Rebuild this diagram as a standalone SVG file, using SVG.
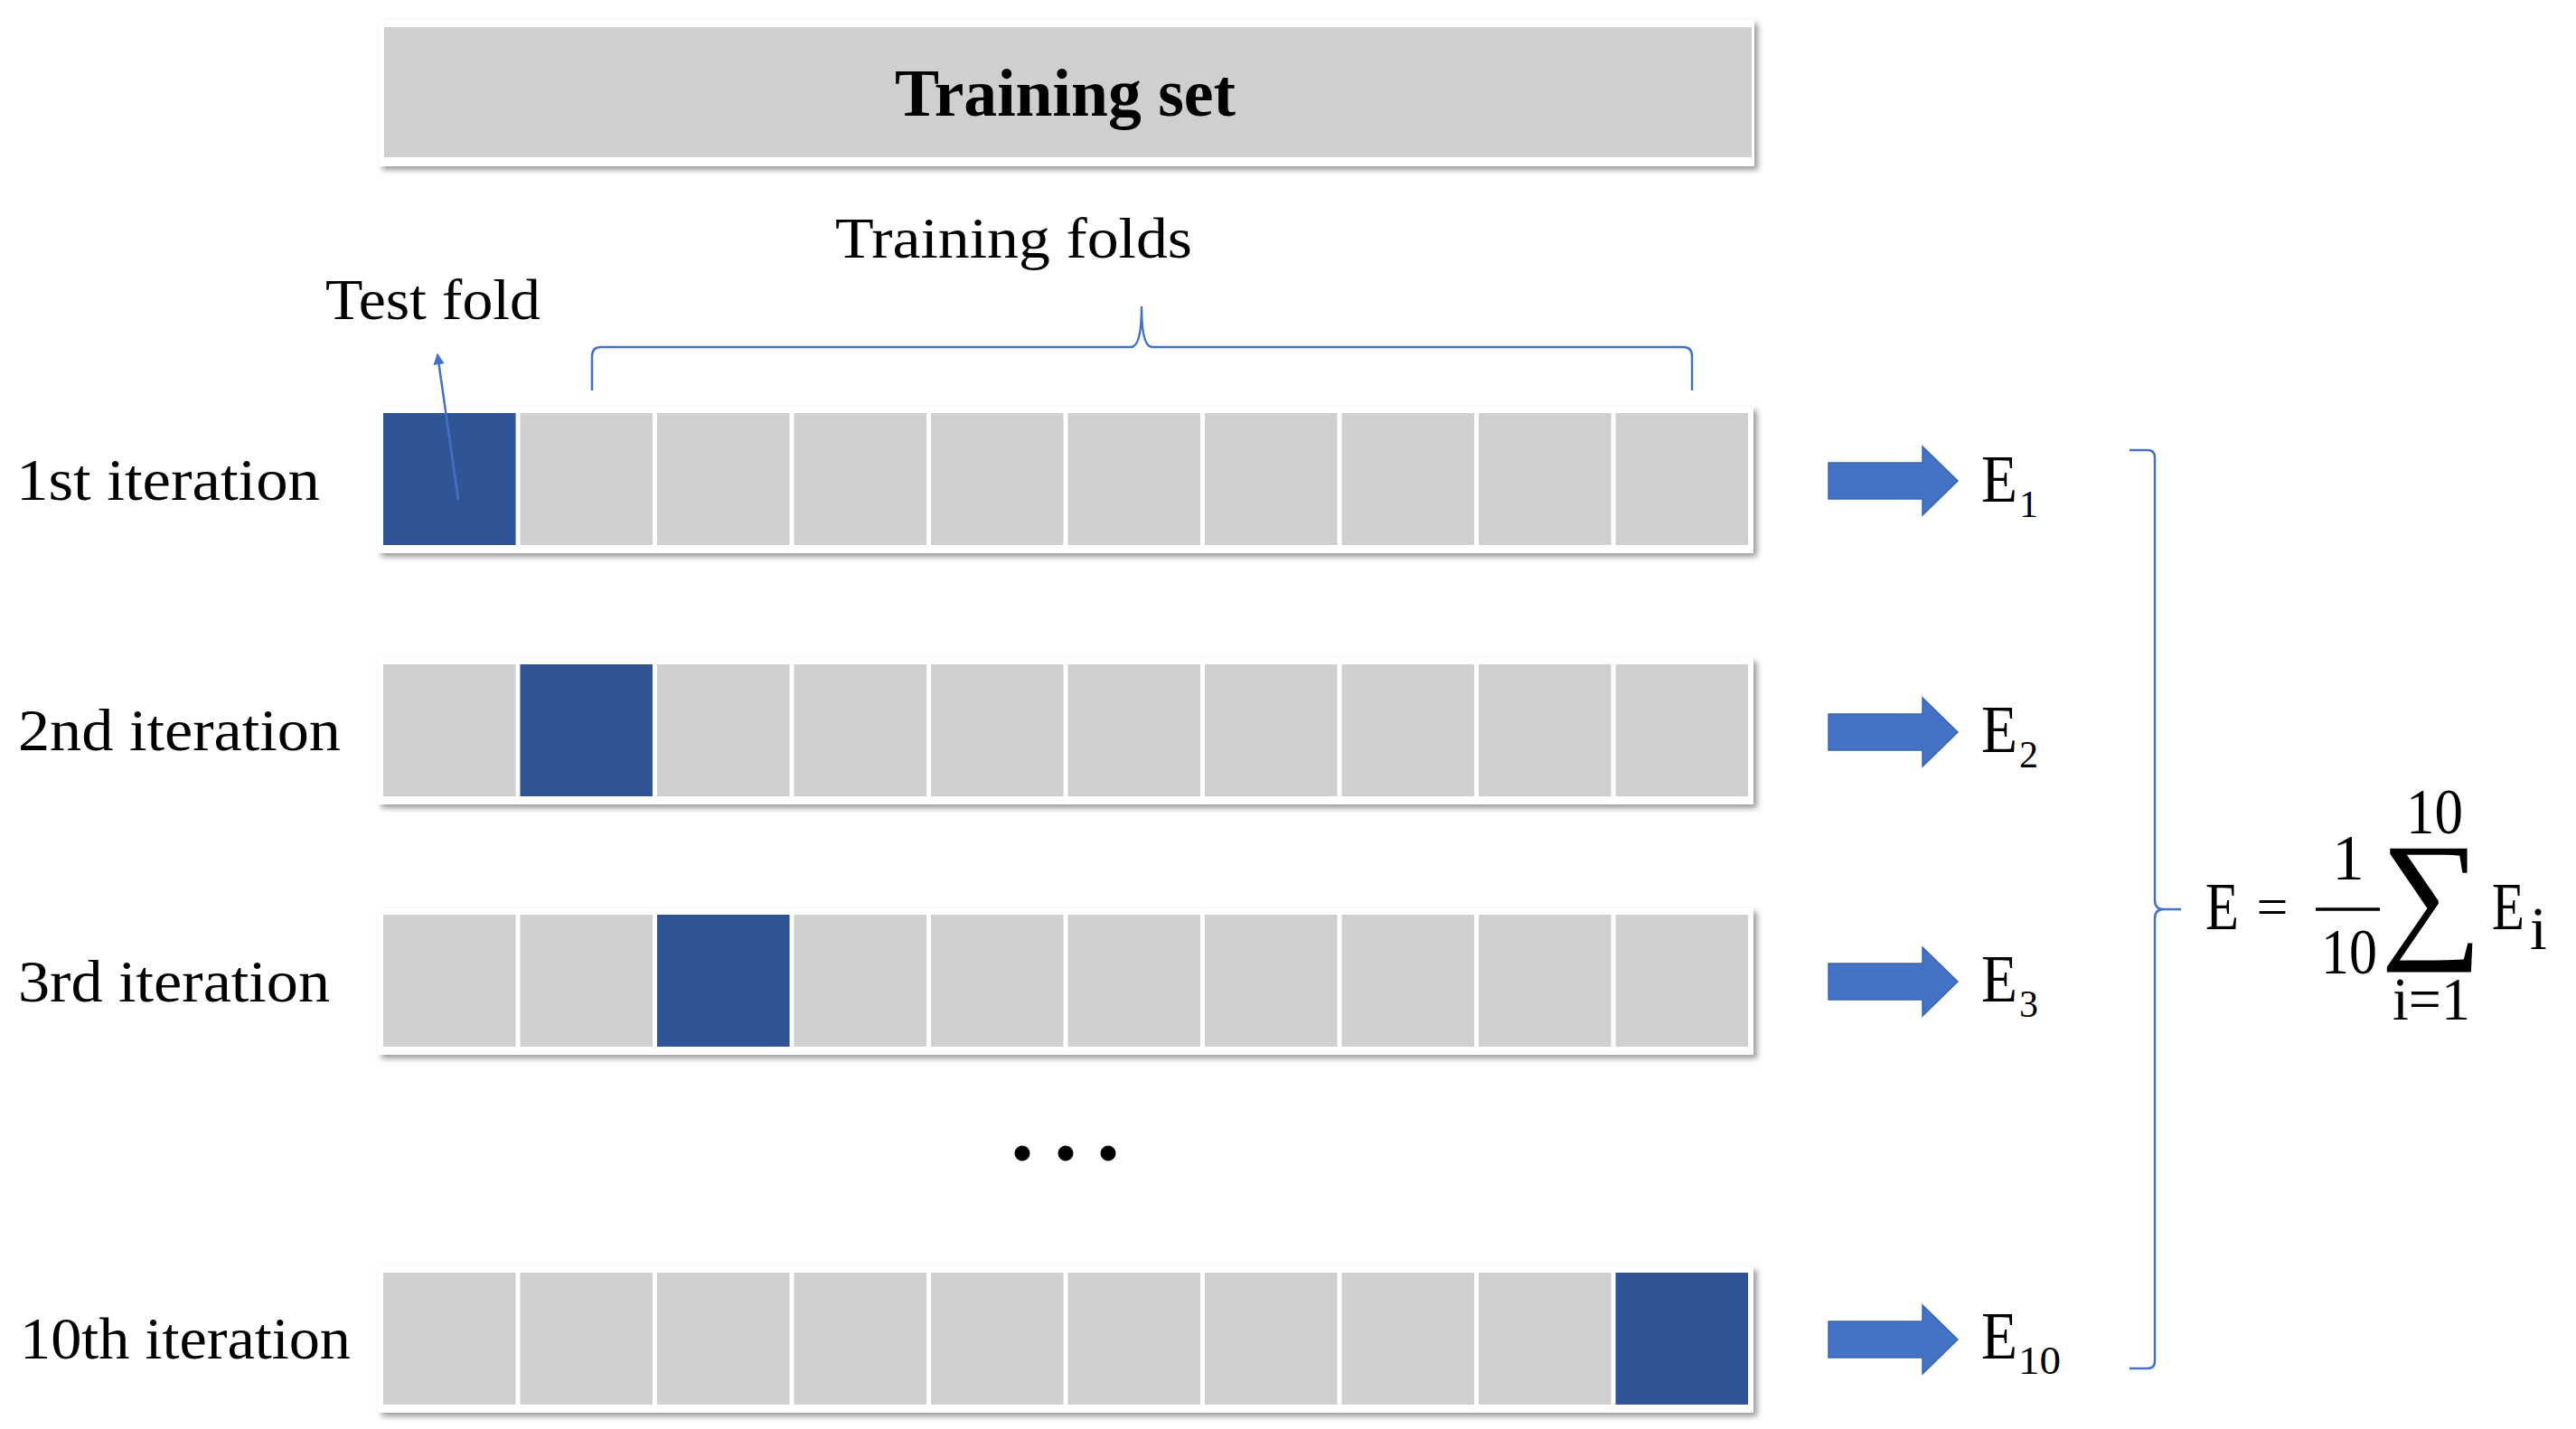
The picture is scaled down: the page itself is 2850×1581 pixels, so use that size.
<svg xmlns="http://www.w3.org/2000/svg" width="2850" height="1581" viewBox="0 0 2850 1581">
<style>
.lbl{font-family:"Liberation Serif","DejaVu Serif",serif;fill:#000}
.frame{fill:#fff;filter:url(#sh)}
.cell{fill:#D0CECE}
.test{fill:#2F5597}
.blk{fill:#4472C4;stroke:#3A64B0;stroke-width:1.5}
.brace{fill:none;stroke:#4472C4;stroke-width:2.5;stroke-linejoin:round}
</style>
<defs>
<filter id="sh" x="-3%" y="-20%" width="106%" height="150%">
<feDropShadow dx="4" dy="4" stdDeviation="3" flood-color="#000" flood-opacity="0.4"/>
</filter>
<marker id="ah" viewBox="0 0 10 10" refX="9" refY="5" markerWidth="5" markerHeight="5" orient="auto" markerUnits="strokeWidth">
<path d="M0,0 L10,5 L0,10 z" fill="#4472C4"/>
</marker>
<g id="rowcells">
<rect class="frame" x="418" y="-7" width="1522" height="162"/>
<rect class="cell" x="424" y="0" width="146.5" height="146"/>
<rect class="cell" x="575.5" y="0" width="146.5" height="146"/>
<rect class="cell" x="727" y="0" width="146.5" height="146"/>
<rect class="cell" x="878.5" y="0" width="146.5" height="146"/>
<rect class="cell" x="1030" y="0" width="146.5" height="146"/>
<rect class="cell" x="1181.5" y="0" width="146.5" height="146"/>
<rect class="cell" x="1333" y="0" width="146.5" height="146"/>
<rect class="cell" x="1484.5" y="0" width="146.5" height="146"/>
<rect class="cell" x="1636" y="0" width="146.5" height="146"/>
<rect class="cell" x="1787.5" y="0" width="146.5" height="146"/>
</g>
</defs>
<rect width="2850" height="1581" fill="#fff"/>

<g id="training-set">
<rect class="frame" x="419" y="22" width="1522" height="162"/>
<rect class="cell" x="425" y="30" width="1513" height="144"/>
<text class="lbl" x="990" y="128" font-size="75" font-weight="bold" textLength="377" lengthAdjust="spacingAndGlyphs">Training set</text>
</g>

<g id="training-folds-label">
<text class="lbl" x="924" y="285" font-size="64" textLength="395" lengthAdjust="spacingAndGlyphs">Training folds</text>
</g>
<g id="test-fold-label">
<text class="lbl" x="360" y="353" font-size="64" textLength="238" lengthAdjust="spacingAndGlyphs">Test fold</text>
</g>

<g id="row1">
<text class="lbl" x="18" y="553" font-size="65" textLength="336" lengthAdjust="spacingAndGlyphs">1st iteration</text>
<use href="#rowcells" transform="translate(0,457)"/>
<rect class="test" x="424" y="457" width="146.5" height="146"/>
</g>
<g id="row2">
<text class="lbl" x="20" y="830" font-size="65" textLength="357" lengthAdjust="spacingAndGlyphs">2nd iteration</text>
<use href="#rowcells" transform="translate(0,735)"/>
<rect class="test" x="575.5" y="735" width="146.5" height="146"/>
</g>
<g id="row3">
<text class="lbl" x="20" y="1108" font-size="65" textLength="345" lengthAdjust="spacingAndGlyphs">3rd iteration</text>
<use href="#rowcells" transform="translate(0,1012)"/>
<rect class="test" x="727" y="1012" width="146.5" height="146"/>
</g>
<g id="ellipsis">
<circle cx="1131" cy="1276" r="8.5" fill="#000"/>
<circle cx="1179" cy="1276" r="8.5" fill="#000"/>
<circle cx="1226" cy="1276" r="8.5" fill="#000"/>
</g>
<g id="row10">
<text class="lbl" x="22" y="1503" font-size="65" textLength="366" lengthAdjust="spacingAndGlyphs">10th iteration</text>
<use href="#rowcells" transform="translate(0,1408)"/>
<rect class="test" x="1787.5" y="1408" width="146.5" height="146"/>
</g>

<g id="e1">
<text class="lbl" x="2192" y="555" font-size="75" textLength="40" lengthAdjust="spacingAndGlyphs">E</text>
<text class="lbl" x="2234" y="572" font-size="42">1</text>
</g>
<g id="e2">
<text class="lbl" x="2192" y="832" font-size="75" textLength="40" lengthAdjust="spacingAndGlyphs">E</text>
<text class="lbl" x="2234" y="849" font-size="42">2</text>
</g>
<g id="e3">
<text class="lbl" x="2192" y="1108" font-size="75" textLength="40" lengthAdjust="spacingAndGlyphs">E</text>
<text class="lbl" x="2234" y="1125" font-size="42">3</text>
</g>
<g id="e10">
<text class="lbl" x="2192" y="1503" font-size="75" textLength="40" lengthAdjust="spacingAndGlyphs">E</text>
<text class="lbl" x="2233" y="1520" font-size="44" textLength="47" lengthAdjust="spacingAndGlyphs">10</text>
</g>

<g id="formula">
<text class="lbl" x="2440" y="1028" font-size="75" textLength="37" lengthAdjust="spacingAndGlyphs">E</text>
<text class="lbl" x="2514" y="1024" font-size="62" text-anchor="middle">=</text>
<text class="lbl" x="2598" y="973" font-size="71" text-anchor="middle">1</text>
<line x1="2562" y1="1006" x2="2633" y2="1006" stroke="#000" stroke-width="3.5"/>
<text class="lbl" x="2568" y="1077" font-size="71" textLength="62" lengthAdjust="spacingAndGlyphs">10</text>
<text class="lbl" x="2662" y="922" font-size="72" textLength="63" lengthAdjust="spacingAndGlyphs">10</text>
<text class="lbl" x="2690" y="1042" font-size="158" text-anchor="middle">∑</text>
<text class="lbl" x="2647" y="1128" font-size="68" textLength="86" lengthAdjust="spacingAndGlyphs">i=1</text>
<text class="lbl" x="2757" y="1028" font-size="75" textLength="36" lengthAdjust="spacingAndGlyphs">E</text>
<text class="lbl" x="2799" y="1050" font-size="68">i</text>
</g>

<g id="connectors">
<path class="brace" d="M655,432 V394 Q655,384 665,384 H1251 Q1263,384 1263,340 Q1263,384 1275,384 H1862 Q1872,384 1872,394 V432"/>
<line x1="507" y1="553" x2="484" y2="392" stroke="#4472C4" stroke-width="2.5" marker-end="url(#ah)"/>
<polygon class="blk" points="2023,512 2127,512 2127,494 2166,532 2127,570 2127,552 2023,552"/>
<polygon class="blk" points="2023,790 2127,790 2127,772 2166,810 2127,848 2127,830 2023,830"/>
<polygon class="blk" points="2023,1066 2127,1066 2127,1048 2166,1086 2127,1124 2127,1106 2023,1106"/>
<polygon class="blk" points="2023,1462 2127,1462 2127,1444 2166,1482 2127,1520 2127,1502 2023,1502"/>
<path class="brace" d="M2356,498 H2376 Q2384,498 2384,506 V996 Q2384,1006 2394,1006 H2413 M2394,1006 Q2384,1006 2384,1016 V1506 Q2384,1514 2376,1514 H2356"/>
</g>
</svg>
